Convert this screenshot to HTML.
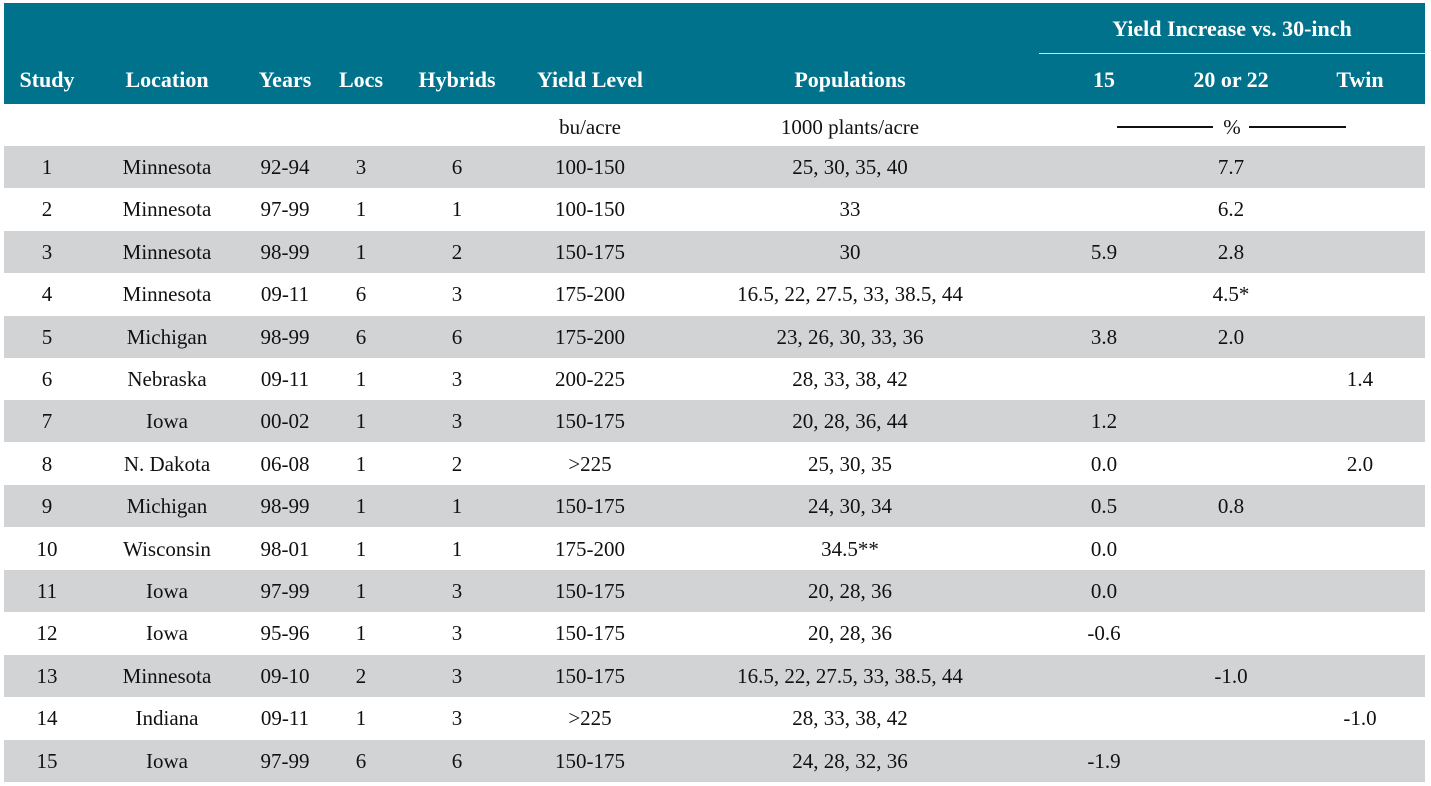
<!DOCTYPE html>
<html><head><meta charset="utf-8">
<style>
body{margin:0;background:#fff;width:1431px;height:786px;overflow:hidden;position:relative;font-family:"Liberation Serif",serif;color:#111}
.hdr{position:absolute;left:4px;top:3px;width:1421px;height:101px;background:#00728b}
.h{position:absolute;color:#fff;font-weight:bold;font-size:22px;transform:translateX(-50%);white-space:nowrap}
.c{position:absolute;font-size:21px;transform:translateX(-50%);white-space:nowrap}
.row{position:absolute;left:4px;width:1421px;height:42px}
</style></head><body>
<div class="hdr"></div>
<div class="h" style="left:1232px;top:16px">Yield Increase vs. 30-inch</div>
<div style="position:absolute;left:1039px;top:53px;width:386px;height:1px;background:#cfe3e8"></div>
<div id="heads"></div>
<div class="c" style="left:590px;top:115px">bu/acre</div>
<div class="c" style="left:850px;top:115px">1000 plants/acre</div>
<div style="position:absolute;left:1117px;top:126px;width:96px;height:2px;background:#111"></div>
<div class="c" style="left:1232px;top:115px">%</div>
<div style="position:absolute;left:1249px;top:126px;width:97px;height:2px;background:#111"></div>
<div id="body"></div>
<script>
const headers=["Study","Location","Years","Locs","Hybrids","Yield Level","Populations","15","20 or 22","Twin"];
const study=["1","2","3","4","5","6","7","8","9","10","11","12","13","14","15"];
const location_=["Minnesota","Minnesota","Minnesota","Minnesota","Michigan","Nebraska","Iowa","N. Dakota","Michigan","Wisconsin","Iowa","Iowa","Minnesota","Indiana","Iowa"];
const years=["92-94","97-99","98-99","09-11","98-99","09-11","00-02","06-08","98-99","98-01","97-99","95-96","09-10","09-11","97-99"];
const locs=["3","1","1","6","6","1","1","1","1","1","1","1","2","1","6"];
const hybrids=["6","1","2","3","6","3","3","2","1","1","3","3","3","3","6"];
const yieldLevel=["100-150","100-150","150-175","175-200","175-200","200-225","150-175",">225","150-175","175-200","150-175","150-175","150-175",">225","150-175"];
const populations=["25, 30, 35, 40","33","30","16.5, 22, 27.5, 33, 38.5, 44","23, 26, 30, 33, 36","28, 33, 38, 42","20, 28, 36, 44","25, 30, 35","24, 30, 34","34.5**","20, 28, 36","20, 28, 36","16.5, 22, 27.5, 33, 38.5, 44","28, 33, 38, 42","24, 28, 32, 36"];
const inc15=["","","5.9","","3.8","","1.2","0.0","0.5","0.0","0.0","-0.6","","","-1.9"];
const inc20=["7.7","6.2","2.8","4.5*","2.0","","","","0.8","","","","-1.0","",""];
const incTwin=["","","","","","1.4","","2.0","","","","","","-1.0",""];
const colX=[47,167,285,361,457,590,850,1104,1231,1360];
const hd=document.getElementById('heads');
headers.forEach((t,i)=>{
  const d=document.createElement('div');
  d.className='h';d.style.left=colX[i]+'px';d.style.top='67px';d.textContent=t;
  
  
  hd.appendChild(d);
});
const cols=[study,location_,years,locs,hybrids,yieldLevel,populations,inc15,inc20,incTwin];
const bd=document.getElementById('body');
for(let r=0;r<study.length;r++){
  const top=146+r*42.4;
  const row=document.createElement('div');
  row.className='row';row.style.top=top+'px';
  row.style.background=r%2===0?'#d2d3d5':'#fff';
  
  
  bd.appendChild(row);
  cols.forEach((arr,i)=>{
    if(!arr[r])return;
    const c=document.createElement('div');
    c.className='c';c.style.left=colX[i]+'px';c.style.top=(top+9)+'px';c.textContent=arr[r];
    
    
    bd.appendChild(c);
  });
}
</script>
</body></html>
